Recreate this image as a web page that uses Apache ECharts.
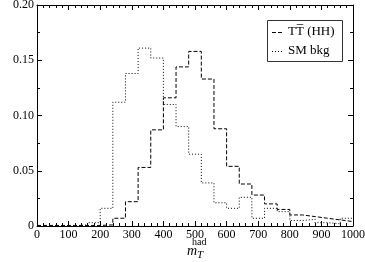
<!DOCTYPE html>
<html>
<head>
<meta charset="utf-8">
<script src="https://cdn.jsdelivr.net/npm/echarts@6/dist/echarts.min.js"></script>
<style>html,body{margin:0;padding:0;background:#fff}#c{width:365px;height:262px}</style>
</head>
<body>
<div id="c"></div>
<script>
// bin left edges (40 GeV bins)
var binEdges = [0,40,80,120,160,200,240,280,320,360,400,440,480,520,560,600,640,680,720,760,800,840,880,920,960,1000];
var ttHH = [0.0005,0.0005,0.0005,0.0005,0.0005,0.001,0.007,0.022,0.053,0.087,0.116,0.144,0.158,0.133,0.088,0.054,0.038,0.028,0.020,0.015,0.010,0.0085,0.007,0.0055,0.004];
var smBkg = [0,0,0,0.001,0.003,0.016,0.112,0.138,0.161,0.152,0.110,0.090,0.065,0.039,0.021,0.016,0.026,0.007,0.016,0.013,0.005,0.006,0.003,0.002,0.007];
var seriesNames = ['TT\u0305 (HH)', 'SM bkg'];
var xTicks = [0,100,200,300,400,500,600,700,800,900,1000];
var yTicks = [0,0.05,0.10,0.15,0.20];

function toSteps(vals){
  var d = [];
  for (var i=0;i<vals.length;i++) d.push([binEdges[i], vals[i]]);
  d.push([binEdges[vals.length], vals[vals.length-1]]);
  return d;
}
var serif = '"Liberation Serif", "Times New Roman", serif';
var chart = echarts.init(document.getElementById('c'), null, {renderer:'canvas'});
var tickX = {show:true, inside:true, length:5, lineStyle:{color:'#000',width:1}};
var minorX = {show:true, splitNumber:5, length:3, lineStyle:{color:'#000',width:1}};
var tickY = {show:true, inside:true, length:5, lineStyle:{color:'#000',width:1}};
var minorY = {show:true, splitNumber:2, length:3, lineStyle:{color:'#000',width:1}};
var lineAx = {show:true, onZero:false, lineStyle:{color:'#000',width:1}};
var dashT = [4,2], dotT = [1,2];
chart.setOption({
  animation:false,
  backgroundColor:'#fff',
  grid:{left:37,right:12,top:5,bottom:36,containLabel:false,outerBoundsMode:'none'},
  xAxis:[{
    type:'value', min:xTicks[0], max:xTicks[xTicks.length-1], interval:100,
    axisLine:lineAx,
    axisTick:tickX, minorTick:minorX, splitLine:{show:false},
    axisLabel:{fontFamily:serif, fontSize:12, color:'#000', margin:3,
      formatter:function(v){ return String(v); }}
  },{
    type:'value', position:'top', min:xTicks[0], max:xTicks[xTicks.length-1], interval:100,
    axisLine:lineAx,
    axisTick:tickX, minorTick:minorX, splitLine:{show:false}, axisLabel:{show:false}
  }],
  yAxis:[{
    type:'value', min:yTicks[0], max:yTicks[yTicks.length-1], interval:0.05,
    axisLine:lineAx,
    axisTick:tickY, minorTick:minorY, splitLine:{show:false},
    axisLabel:{fontFamily:serif, fontSize:12, color:'#000', margin:3,
      formatter:function(v){ return v===0 ? '0' : v.toFixed(2); }},
    name:'Fraction of events / 40 GeV', nameLocation:'middle', nameGap:30,
    nameTextStyle:{fontFamily:serif, fontSize:14, color:'#000'}
  },{
    type:'value', position:'right', min:yTicks[0], max:yTicks[yTicks.length-1], interval:0.05,
    axisLine:lineAx,
    axisTick:tickY, minorTick:minorY, splitLine:{show:false}, axisLabel:{show:false}
  }],
  graphic:[
    {type:'text', left:192, top:237, style:{text:'had', font:'10px '+serif, fill:'#000'}},
    {type:'text', left:187, top:244, style:{text:'m', font:'italic 14px '+serif, fill:'#000'}},
    {type:'text', left:197, top:250, style:{text:'T', font:'italic 11px '+serif, fill:'#000'}},
    {type:'rect', left:267, top:20, shape:{width:75, height:41}, style:{fill:'#fff', stroke:'#333', lineWidth:1}},
    {type:'line', shape:{x1:272, y1:32.5, x2:283, y2:32.5}, style:{stroke:'#000', lineWidth:1, lineDash:dashT}},
    {type:'line', shape:{x1:272, y1:51.5, x2:283, y2:51.5}, style:{stroke:'#000', lineWidth:1, lineDash:dotT}},
    {type:'text', left:288, top:25, style:{text:seriesNames[0], font:'13px '+serif, fill:'#000'}},
    {type:'text', left:288, top:44, style:{text:seriesNames[1], font:'13px '+serif, fill:'#000'}}
  ],
  series:[{
    name:seriesNames[0], type:'line', step:'end', symbol:'none', showSymbol:false,
    data:toSteps(ttHH),
    lineStyle:{color:'#000', width:1, type:dashT},
    itemStyle:{color:'#000'}
  },{
    name:seriesNames[1], type:'line', step:'end', symbol:'none', showSymbol:false,
    data:toSteps(smBkg),
    lineStyle:{color:'#000', width:1, type:dotT},
    itemStyle:{color:'#000'}
  }]
});
</script>
</body>
</html>
